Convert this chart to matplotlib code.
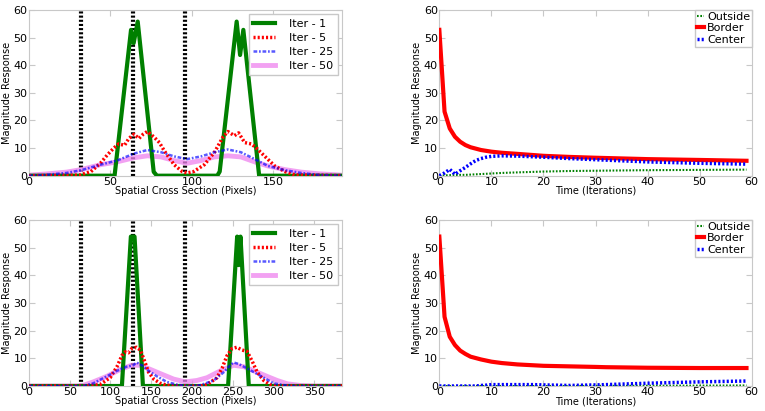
import matplotlib
matplotlib.use("Agg")
import matplotlib.pyplot as plt
import numpy as np

# ---- data ----
# top-left: cross section, 192 px wide, borders at 32/64/96
top_borders = [32, 64, 96]
top_iter1_x = [0, 52.5, 62.6, 64.2, 66.7, 76.5, 78.5, 115.5, 117, 127.4, 129.5, 131.5, 141.2, 192]
top_iter1_y = [0, 0, 52.8, 48, 55.8, 1.4, 0, 0, 1.5, 55.8, 43.7, 52.8, 0, 0]
top_iter5_x = [0, 31, 38, 43.8, 48, 52, 55, 58.6, 61.3, 64.4, 67.5, 70, 72.6, 76.7, 80, 83, 89, 94, 97,
               101, 107.6, 113.8, 119, 122, 126, 128.6, 132.3, 136.4, 139.5, 144.7, 150.8, 157, 163, 192]
top_iter5_y = [0, 0.2, 1.5, 4.5, 7.5, 10, 11.5, 11, 13.5, 15, 13.5, 15, 16, 14, 12, 9, 4, 1.5, 1,
               1.5, 4, 8.5, 14, 16, 14.5, 15.5, 12, 11.5, 10, 7, 3.5, 1.5, 0.3, 0]
top_iter25_x = [0, 10, 23, 32, 44, 54, 64.4, 72.6, 81, 89, 97, 105.6, 113.8, 122, 130, 138.5, 146.7,
                157, 167, 177.6, 192]
top_iter25_y = [0, 0.3, 1, 2, 4, 5.5, 8, 9.3, 8.5, 7, 6, 7, 8.5, 9.5, 8.5, 6, 3.5, 2, 1, 0.3, 0]
top_iter50_x = [0, 10, 23, 32, 44, 54, 64.4, 72.6, 81, 89, 97, 105.6, 113.8, 122, 130, 138.5, 146.7,
                157, 167, 177.6, 192]
top_iter50_y = [0.2, 0.6, 1.3, 2.2, 4, 5, 6.5, 7.2, 6.8, 5.5, 4.5, 5.5, 6.8, 7.2, 6.8, 5, 3.5, 2.2,
                1.3, 0.7, 0.2]

# bottom-left: cross section, 384 px wide, borders at 64/128/192
bot_borders = [64, 128, 192]
bot_iter1_x = [0, 114, 125, 129.5, 139.8, 244.3, 255.4, 257.4, 259.5, 269.7, 384]
bot_iter1_y = [0, 0, 54, 54, 0, 0, 54, 43.7, 54, 0, 0]
bot_iter5_x = [0, 67, 87, 99.6, 108, 114, 118, 122, 126, 132, 136.5, 140.6, 146.7, 153, 161, 169,
               185.6, 210, 218.4, 230.7, 237, 243, 249, 255, 261.5, 267.6, 273.8, 280, 288, 296,
               304.5, 384]
bot_iter5_y = [0, 0, 0.5, 3, 7, 11, 12.3, 12, 13.5, 14, 13, 10, 5, 2.5, 1, 0.3,
               0, 0, 0.5, 3, 6.5, 11, 13.5, 14, 13, 12.5, 9, 5, 2, 0.5, 0, 0]
bot_iter25_x = [0, 67, 79, 95.5, 108, 120, 128, 132, 138.5, 146.7, 157, 169, 181.5, 194, 210,
                226.6, 239, 247, 251, 257, 263.5, 276, 288, 300, 312.7, 325, 384]
bot_iter25_y = [0, 0, 1, 3.5, 5.5, 7, 7.5, 8.5, 7.5, 5.5, 3.5, 1.5, 0.5, 0, 0.3,
                2, 5, 7.5, 8.5, 8, 7, 5, 3, 1, 0.3, 0, 0]
bot_iter50_x = [0, 58.6, 67, 79, 95.5, 112, 126, 136.5, 149, 161, 177.5, 192, 206, 218.4, 235,
                251, 263.5, 276, 292, 304.5, 317, 333, 350, 384]
bot_iter50_y = [0, 0, 0.3, 1.5, 3.5, 6, 7.5, 7.5, 6, 4.5, 2.5, 1.5, 2, 3, 5.5,
                7.5, 7, 5.5, 3.5, 2, 0.8, 0.2, 0, 0]

# right column: response over time
top_t = [0, 1, 2, 3, 4, 5, 6, 7, 8, 9, 10, 12, 15, 20, 25, 30, 40, 50, 59]
top_border = [52.8, 23.2, 17.1, 14.1, 12.3, 11.1, 10.3, 9.8, 9.3, 9.0, 8.7, 8.3, 7.9, 7.2, 6.8,
              6.5, 6.0, 5.7, 5.4]
top_center = [0, 1.0, 2.3, 0.5, 1.8, 3.0, 4.3, 5.5, 6.2, 6.7, 7.0, 7.2, 7.1, 6.7, 6.2,
              5.8, 5.0, 4.5, 4.2]
top_outside = [0, 0.1, 0.2, 0.2, 0.3, 0.3, 0.4, 0.5, 0.6, 0.7, 0.8, 1.0, 1.2, 1.5, 1.7,
               1.8, 2.0, 2.1, 2.2]

bot_t = [0, 1, 2, 3, 4, 5, 6, 7, 8, 9, 10, 12, 15, 18, 20, 25, 30, 32, 40, 50, 59]
bot_border = [54, 25, 17.8, 14.8, 12.8, 11.6, 10.6, 10.1, 9.6, 9.2, 8.8, 8.3, 7.8, 7.5, 7.3,
              7.1, 6.9, 6.8, 6.6, 6.5, 6.5]
bot_center = [0, 0, 0, 0, 0, 0, 0, 0, 0.2, 0.3, 0.5, 0.5, 0.5, 0.5, 0.4, 0.2, 0.4, 0.5, 1.0, 1.5, 1.8]
bot_outside = [0, 0, 0, 0, 0, 0, 0, 0, 0, 0, 0, 0, 0, 0, 0, 0, 0.05, 0.05, 0.1, 0.15, 0.2]

GRAY = "#c8c8c8"


def style_axes(ax, xlabel):
    for sp in ax.spines.values():
        sp.set_color(GRAY)
    ax.tick_params(direction="in", colors=GRAY, labelcolor="black", labelsize=8,
                   top=True, right=True, length=4, pad=1)
    ax.set_ylim(0, 60)
    ax.set_yticks([0, 10, 20, 30, 40, 50, 60])
    ax.set_xlabel(xlabel, fontsize=7, labelpad=-1)
    ax.set_ylabel("Magnitude Response", fontsize=7, labelpad=1)


def plot_cross_section(ax, borders, xmax, xticks, series):
    for b in borders:
        ax.axvline(b, color="black", ls=(0, (0.5, 0.5)), lw=3, zorder=1)
    (x1, y1), (x5, y5), (x25, y25), (x50, y50) = series
    ax.plot(x1, y1, color="green", lw=3, label="Iter - 1", zorder=3)
    ax.plot(x5, y5, color="red", ls=(0, (0.6, 0.6)), lw=2.5, label="Iter - 5", zorder=4)
    ax.plot(x25, y25, color="blue", ls=(0, (1.5, 0.7, 0.7, 0.7)), lw=1.8, alpha=0.65,
            label="Iter - 25", zorder=5)
    ax.plot(x50, y50, color="violet", lw=3.5, alpha=0.75, label="Iter - 50", zorder=2)
    ax.set_xlim(0, xmax)
    ax.set_xticks(xticks)
    style_axes(ax, "Spatial Cross Section (Pixels)")
    ax.legend(loc="upper right", fontsize=8, handlelength=2.0, handletextpad=1.2,
              labelspacing=0.35, borderaxespad=0.4, fancybox=False, framealpha=1,
              edgecolor=GRAY)


def plot_time(ax, t, outside, border, center):
    ax.plot(t, outside, color="green", ls=(0, (0.8, 0.8)), lw=1.5, label="Outside", zorder=2)
    ax.plot(t, border, color="red", lw=3, label="Border", zorder=3)
    ax.plot(t, center, color="blue", ls=(0, (0.6, 0.6)), lw=2.5, label="Center", zorder=4)
    ax.set_xlim(0, 60)
    ax.set_xticks([0, 10, 20, 30, 40, 50, 60])
    style_axes(ax, "Time (Iterations)")
    ax.legend(loc="upper right", fontsize=8, handlelength=0.6, handletextpad=0.3,
              labelspacing=0.15, borderaxespad=0.0, borderpad=0.15, fancybox=False,
              framealpha=1, edgecolor=GRAY)


fig = plt.figure(figsize=(7.65, 4.11), dpi=100)
ax_tl = fig.add_axes([0.0379, 0.5725, 0.4091, 0.4032])
ax_bl = fig.add_axes([0.0379, 0.0608, 0.4091, 0.4039])
ax_tr = fig.add_axes([0.5743, 0.5725, 0.4083, 0.4032])
ax_br = fig.add_axes([0.5743, 0.0608, 0.4083, 0.4039])

plot_cross_section(ax_tl, top_borders, 192, [0, 50, 100, 150],
                   [(top_iter1_x, top_iter1_y), (top_iter5_x, top_iter5_y),
                    (top_iter25_x, top_iter25_y), (top_iter50_x, top_iter50_y)])
plot_cross_section(ax_bl, bot_borders, 384, [0, 50, 100, 150, 200, 250, 300, 350],
                   [(bot_iter1_x, bot_iter1_y), (bot_iter5_x, bot_iter5_y),
                    (bot_iter25_x, bot_iter25_y), (bot_iter50_x, bot_iter50_y)])
plot_time(ax_tr, top_t, top_outside, top_border, top_center)
plot_time(ax_br, bot_t, bot_outside, bot_border, bot_center)

fig.savefig("out.png", dpi=100)
